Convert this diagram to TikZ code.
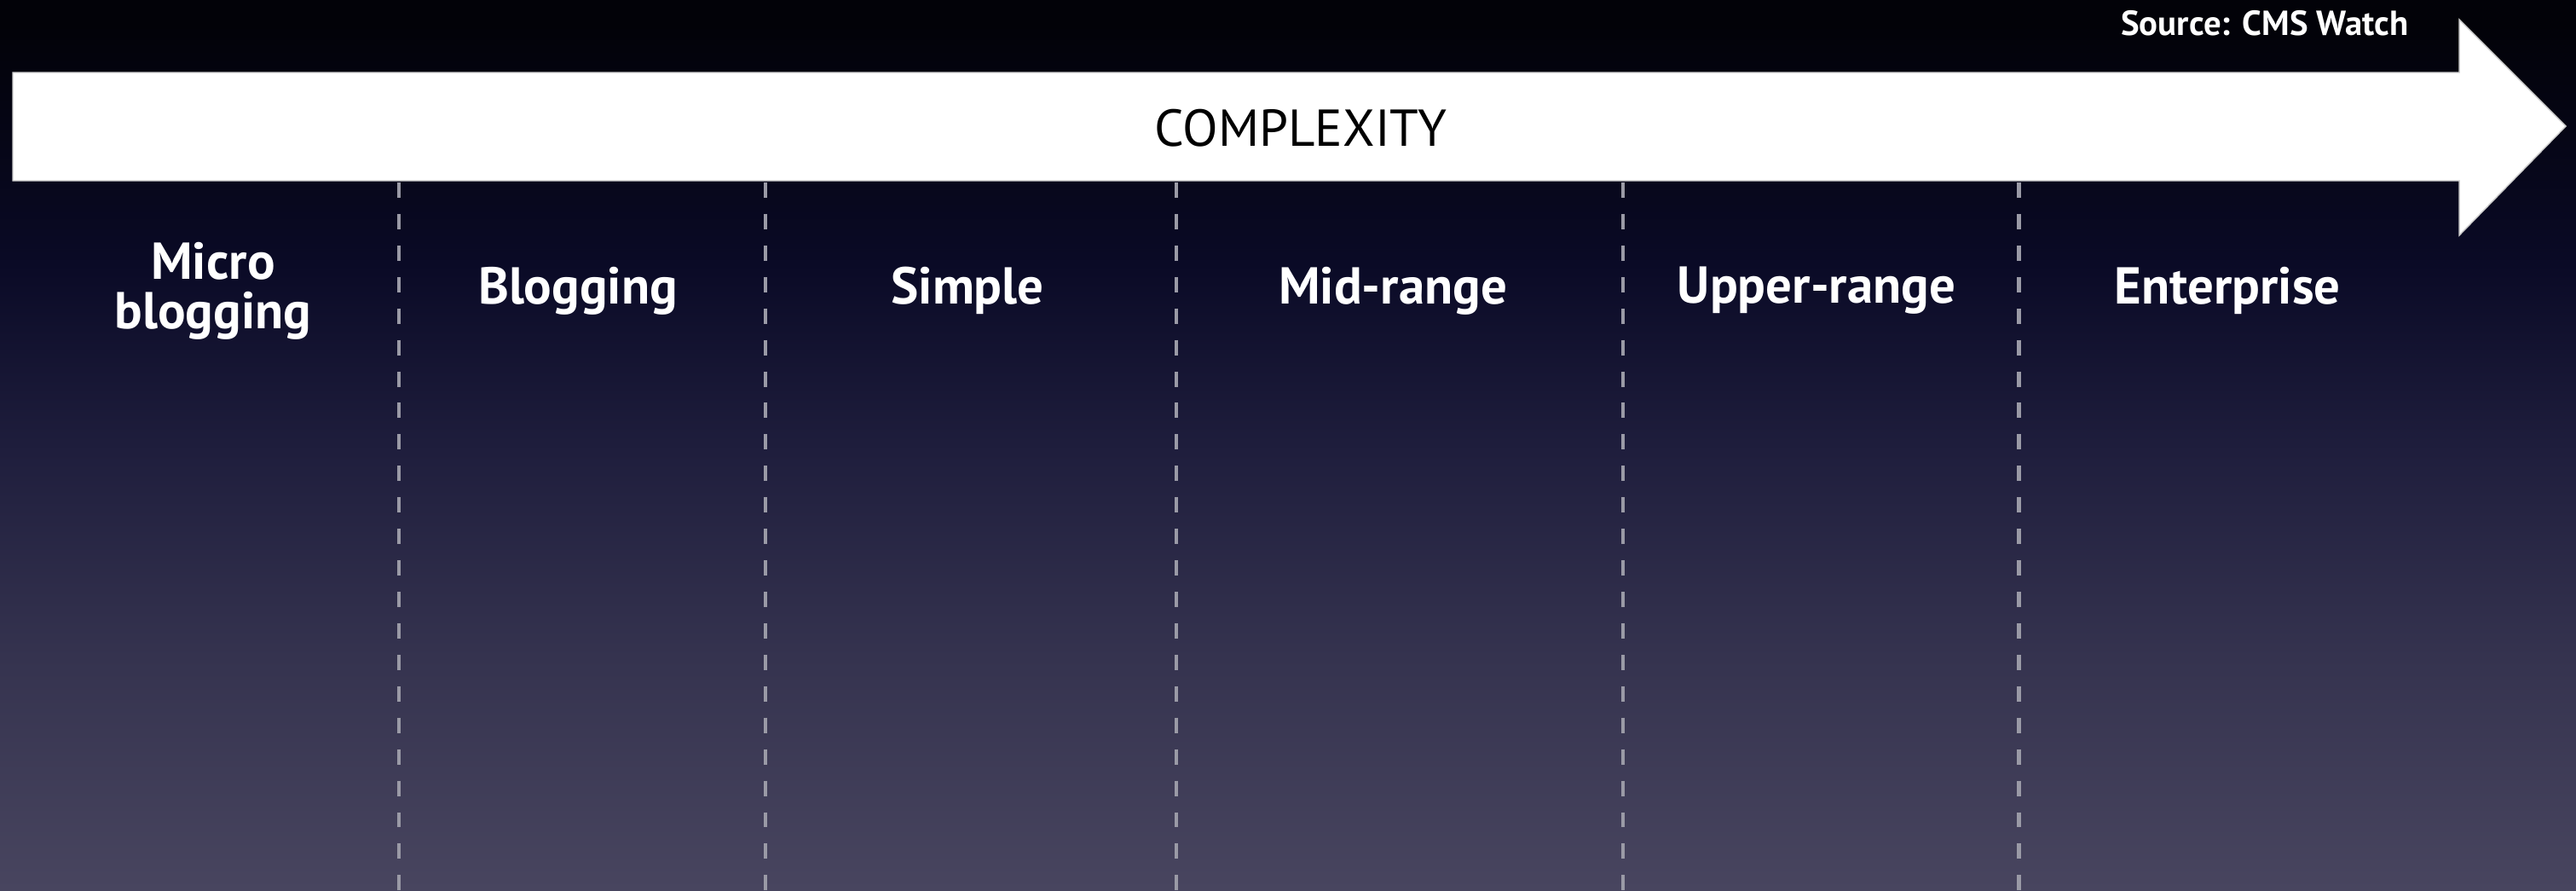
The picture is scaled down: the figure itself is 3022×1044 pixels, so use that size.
\documentclass[tikz,border=0pt]{standalone}
\usepackage{fontspec}
\setmainfont{PT Sans}
\begin{document}
\begin{tikzpicture}[x=0.01cm,y=-0.01cm,
  lbl/.style={text=white,font=\fontsize{17.3}{16.4}\selectfont\bfseries,align=center,inner sep=0pt},
  sep/.style={draw=sepgray,line width=1.4pt,dash pattern=on 5.1pt off 5.4pt}]
\definecolor{sepgray}{HTML}{9A9AA6}
\definecolor{g0}{HTML}{48455F}
\definecolor{g1}{HTML}{35334F}
\definecolor{g2}{HTML}{1F1E3D}
\definecolor{g3}{HTML}{0A0A26}
\definecolor{g4}{HTML}{020208}
\pgfdeclareverticalshading{bgshade}{100bp}{color(0bp)=(g0); color(25bp)=(g0); color(38.1bp)=(g1); color(49.6bp)=(g2); color(60.2bp)=(g3); color(73.6bp)=(g4); color(100bp)=(g4)}
\useasboundingbox (0,0) rectangle (3022,1044);
\shade[shading=bgshade] (0,0) rectangle (3022,1044);
% arrow
\fill[white,draw=gray!40,line width=0.4pt] (15,85) -- (2885,85) -- (2885,23) -- (3010,148) -- (2885,276) -- (2885,212) -- (15,212) -- cycle;
\node[inner sep=0pt,font=\fontsize{17.3}{18}\selectfont] (cx) at (1526,150) {COMPLEXITY};
\node[anchor=east,text=white,inner sep=0pt,font=\fontsize{11.6}{12}\selectfont\bfseries] (src) at (2826,27) {Source: CMS Watch};
% separators
\foreach \x [count=\i] in {468,898,1380,1904,2368}{
  \coordinate (t\i) at (\x,214);
  \coordinate (b\i) at (\x,1044);
  \draw[sep] (t\i) -- (b\i);
}
\node[lbl] (micro) at (250,341) {Micro\\blogging};
\node[lbl] (blog) at (678,341) {Blogging};
\node[lbl] (simple) at (1135,341) {Simple};
\node[lbl] (mid) at (1634,341) {Mid-range};
\node[lbl] (upper) at (2131,341) {Upper-range};
\node[lbl] (ent) at (2613,341) {Enterprise};
\end{tikzpicture}
\end{document}
